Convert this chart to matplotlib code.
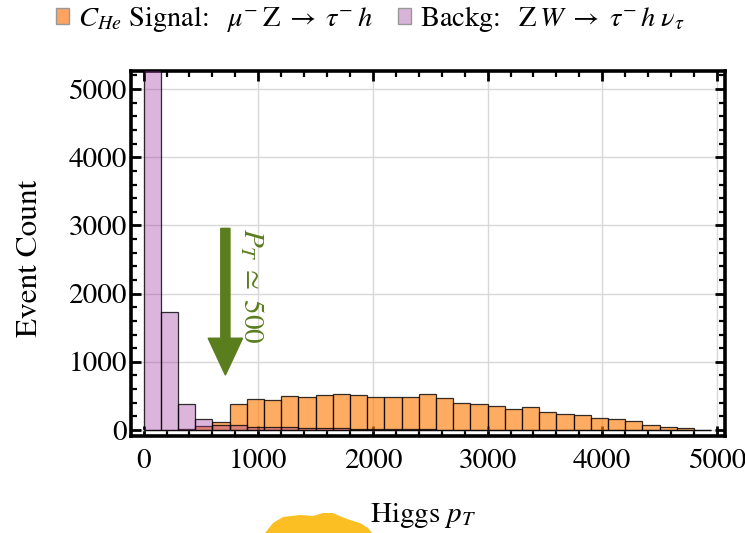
import numpy as np
import matplotlib
matplotlib.use("Agg")
import matplotlib.pyplot as plt
from matplotlib.patches import Patch, FancyArrow, Polygon
from matplotlib.ticker import MultipleLocator

plt.rcParams['font.family'] = ['STIXGeneral', 'DejaVu Serif']
plt.rcParams['mathtext.fontset'] = 'stix'

# ---- data ----
bin_width = 150
bin_left = list(range(0, 4801, 150))  # 0 ... 4800
signal = [0, 0, 10, 63, 122, 380, 455, 447, 497, 482, 510, 535, 515, 487, 482,
          480, 523, 474, 391, 381, 357, 313, 342, 264, 235, 220, 176, 156, 132,
          73, 49, 24, 5]
background = [7000, 1730, 385, 166, 75, 72, 48, 42, 40, 35, 30, 25, 20, 15, 12,
              10, 8, 6, 5, 4, 3, 2, 1, 1, 0, 0, 0, 0, 0, 0, 0, 0, 0]
x_ticks = [0, 1000, 2000, 3000, 4000, 5000]
y_ticks = [0, 1000, 2000, 3000, 4000, 5000]
signal_label = r"$C_{He}$ Signal:  $\,\mu^{-}\,\mathrm{Z}\;\rightarrow\;\tau^{-}\,h$"
backg_label = r"Backg:  $\,\mathrm{Z}\,W\;\rightarrow\;\tau^{-}\,h\;\nu_{\tau}$"
arrow_x, arrow_top, arrow_tip = 713, 2957, 806
cut_label = r"$P_T\;\simeq\;500$"

W, H = 745, 533
fig = plt.figure(figsize=(W / 100, H / 100), dpi=100)
L, R, T, B = 131, 725, 71, 436
ax = fig.add_axes([L / W, 1 - B / H, (R - L) / W, (B - T) / H])

orange_face = (1.0, 0.50, 0.06, 0.65)
purple_face = (0.62, 0.20, 0.62, 0.36)
edge = (0, 0, 0, 0.8)

ax.bar(bin_left, signal, width=bin_width, align='edge', color=orange_face,
       edgecolor=edge, linewidth=0.9, zorder=2)
ax.bar(bin_left, background, width=bin_width, align='edge', color=purple_face,
       edgecolor=edge, linewidth=0.9, zorder=3)

ax.set_xlim(-110, 5070)
ax.set_ylim(-88, 5265)
ax.set_xticks(x_ticks)
ax.set_yticks(y_ticks)
ax.xaxis.set_minor_locator(MultipleLocator(200))
ax.yaxis.set_minor_locator(MultipleLocator(200))
ax.tick_params(which='both', direction='in', top=True, right=True, labeltop=False,
               labelright=False, color='black')
ax.tick_params(which='major', length=7, width=2, labelsize=21)
ax.tick_params(which='minor', length=4, width=1.6)
ax.tick_params(axis='x', which='major', pad=9)
ax.tick_params(axis='y', which='major', pad=3)
for s in ax.spines.values():
    s.set_linewidth(2.6)
ax.grid(True, which='major', color='#d8d8d8', linewidth=1.0)
ax.set_axisbelow(True)

green = '#5a7d1e'
ax.add_patch(FancyArrow(arrow_x, arrow_top, 0, arrow_tip - arrow_top, width=80,
                        head_width=300, head_length=540, length_includes_head=True,
                        color=green, zorder=5))
ax.text(948, arrow_top, cut_label, rotation=-90, ha='center', va='top',
        color=green, fontsize=21, zorder=5)

fig.text(30 / W, 1 - 258 / H, "Event Count", rotation=90, ha='center', va='center',
         fontsize=22.5)
fig.text(423 / W, 1 - 515 / H, r"Higgs $p_T$", ha='center', va='center', fontsize=21)

handles = [Patch(facecolor='#fca460', edgecolor='#999999', linewidth=1.0),
           Patch(facecolor='#d9b4d9', edgecolor='#999999', linewidth=1.0)]
fig.legend(handles, [signal_label, backg_label], loc='center',
           bbox_to_anchor=(370 / W, 1 - 19 / H), ncol=2, frameon=False,
           fontsize=20.5, handlelength=0.47, handleheight=0.47, handletextpad=0.3,
           columnspacing=0.9, borderaxespad=0)

# yellow blob at the bottom of the reference image (pixel coordinates)
blob = [(265, 533), (273, 523), (283, 517), (300, 515), (313, 516), (323, 513),
        (333, 513), (342, 517), (350, 520), (360, 523), (368, 528), (372, 533)]
fig.patches.append(Polygon([(x / W, 1 - y / H) for x, y in blob], closed=True,
                           transform=fig.transFigure, facecolor='#fbbf24',
                           edgecolor='none', zorder=10))

fig.savefig("out.png", dpi=100)
